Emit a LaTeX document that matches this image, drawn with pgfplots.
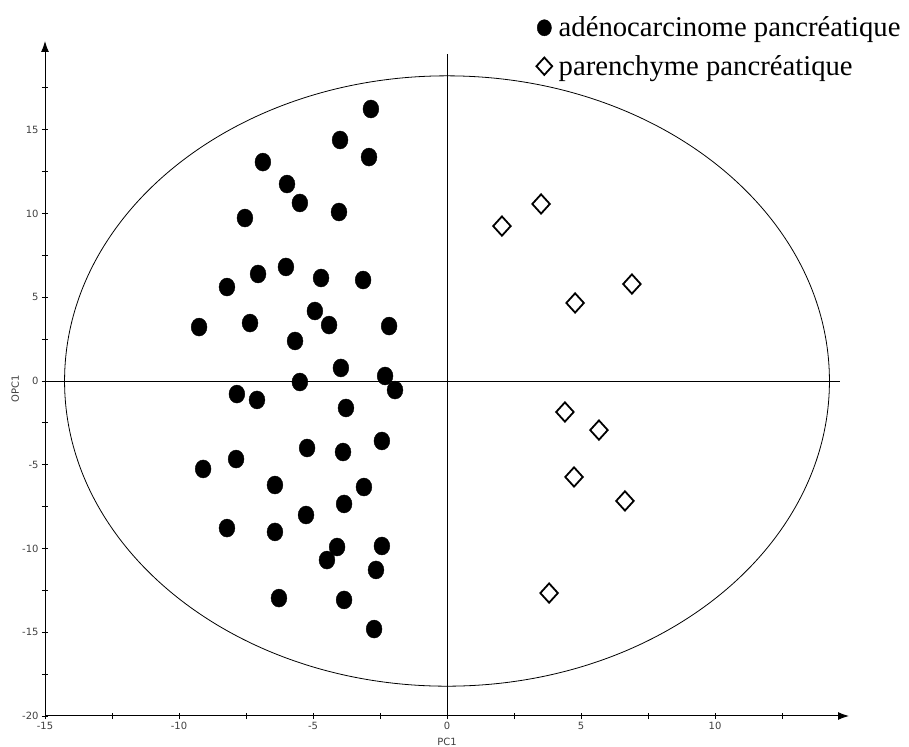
\documentclass[border=0pt]{standalone}
\usepackage{fontspec}
\setmainfont{DejaVu Sans}
\newfontfamily\legfont{Liberation Serif}
\usepackage{pgfplots}
\pgfplotsset{compat=1.18}
\usetikzlibrary{arrows.meta}
\definecolor{ticktext}{HTML}{404040}
\begin{document}
\begin{tikzpicture}
\useasboundingbox (0,0) rectangle (909bp,747bp);
\begin{axis}[
  at={(45bp,31bp)}, anchor=south west,
  width=804bp, height=675bp, scale only axis,
  xmin=-15, xmax=15, ymin=-20, ymax=20.3,
  axis lines=left,
  axis line style={line width=1bp, -{Latex[length=11bp,width=8bp]}},
  xtick={-15,-10,-5,0,5,10},
  ytick={-20,-15,-10,-5,0,5,10,15},
  minor xtick={-12.5,-7.5,-2.5,2.5,7.5,12.5},
  minor ytick={-17.5,-12.5,-7.5,-2.5,2.5,7.5,12.5,17.5},
  tick align=center,
  major tick length=6bp, minor tick length=6bp,
  every tick/.style={black, line width=0.8bp},
  /pgf/number format/assume math mode=true,
  tick label style={font=\fontsize{10}{11}\selectfont, text=ticktext},
  xlabel={PC1}, ylabel={OPC1},
  label style={font=\fontsize{10}{11}\selectfont, text=ticktext},
  xlabel style={at={(axis description cs:0.5,-0.0385)}, anchor=center},
  ylabel style={at={(axis description cs:-0.037,0.4848)}, anchor=center},
  clip=false,
  legend image code/.code={\draw[#1, every mark/.append style={scale=0.9}] plot coordinates {(0bp,0bp)};},
  legend style={at={(axis description cs:0.611,1.038)}, anchor=north west,
    draw=none, fill=none, inner sep=0pt, row sep=14bp,
    font=\legfont\fontsize{28.8}{34}\selectfont,
    nodes={inner sep=1.5bp}, column sep=5bp},
  legend cell align=left,
]
\addplot[black, line width=0.8bp, forget plot] coordinates {(-15,0) (14.66,0)};
\addplot[black, line width=0.8bp, forget plot] coordinates {(0,-20) (0,19.5)};
\draw[black, line width=0.8bp] (axis cs:0,0) ellipse [x radius=14.27, y radius=18.22];

\addplot[only marks, mark=*, mark size=9bp,
  mark options={xscale=0.88, fill=black, draw=black}]
coordinates {
(-2.84,16.24) (-3.99,14.39) (-2.91,13.37) (-6.87,13.07) (-5.97,11.76)
(-5.49,10.63) (-7.54,9.73) (-4.03,10.09) (-6.01,6.81) (-7.05,6.39)
(-4.70,6.15) (-3.13,6.03) (-8.21,5.61) (-4.93,4.18) (-7.35,3.46)
(-4.40,3.34) (-9.25,3.22) (-2.16,3.28) (-5.67,2.39) (-3.96,0.78)
(-2.31,0.30) (-5.49,-0.06) (-1.94,-0.54) (-7.84,-0.78) (-7.09,-1.13)
(-3.77,-1.61) (-2.43,-3.58) (-5.22,-4.00) (-3.88,-4.24) (-9.10,-5.25)
(-7.87,-4.66) (-6.42,-6.21) (-3.10,-6.33) (-3.84,-7.34) (-5.26,-8.00)
(-8.21,-8.78) (-6.42,-9.01) (-4.10,-9.91) (-2.43,-9.85) (-4.48,-10.69)
(-2.65,-11.28) (-6.27,-12.96) (-3.84,-13.07) (-2.72,-14.81)
};
\addlegendentry{adénocarcinome pancréatique}

\addplot[only marks, mark=square*, mark size=6.2bp,
  mark options={fill=white, draw=black, line width=1.8bp, yscale=1.1, rotate=45}]
coordinates {
(2.05,9.25) (3.51,10.57) (6.90,5.79) (4.78,4.66) (4.40,-1.85)
(5.67,-2.93) (4.74,-5.73) (6.64,-7.16) (3.81,-12.66)
};
\addlegendentry{parenchyme pancréatique}
\end{axis}
\end{tikzpicture}
\end{document}
